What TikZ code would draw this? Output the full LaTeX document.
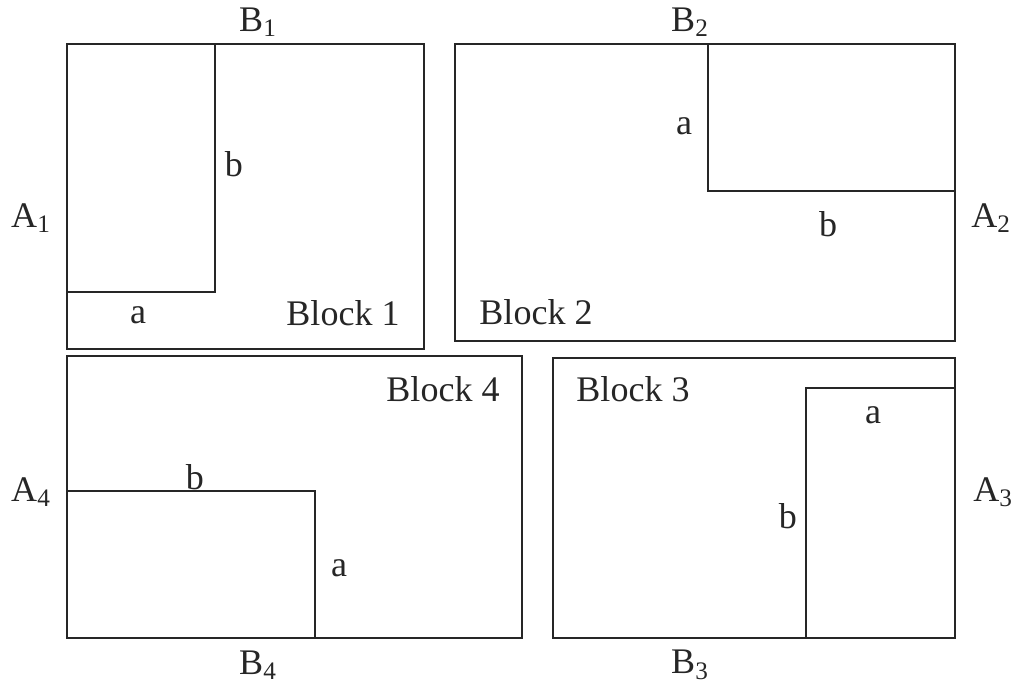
\documentclass[tikz,border=0pt]{standalone}
\usepackage{fontspec}
\setmainfont{Liberation Serif}
\usepackage{tikz}
\usetikzlibrary{positioning}
\tikzset{
  blockline/.style={draw, line width=0.9pt, black!85},
  lbl/.style={font=\fontsize{20.5}{24}\selectfont, inner sep=0pt, text=black!85},
  sidelbl/.style={font=\fontsize{20.5}{24}\selectfont, inner sep=0pt, text=black!85}
}

\begin{document}
\begin{tikzpicture}[x=0.2mm, y=-0.2mm]
  \useasboundingbox (0,0) rectangle (1014,691);
  % blocks
  \draw[blockline] (67,44) rectangle (424,349);
  \draw[blockline] (455,44) rectangle (955,341);
  \draw[blockline] (553,358) rectangle (955,638);
  \draw[blockline] (67,356) rectangle (522,638);
  % inner pieces
  \draw[blockline] (67,292) -| (215,44);
  \draw[blockline] (708,44) |- (955,191);
  \draw[blockline] (806,638) |- (955,388);
  \draw[blockline] (67,491) -| (315,638);
  % side labels
  \node[sidelbl] (b1) at (258,22) {B\textsubscript{1}};
  \node[sidelbl] (b2) at (690,22) {B\textsubscript{2}};
  \node[sidelbl] (b3) at (690,665) {B\textsubscript{3}};
  \node[sidelbl] (b4) at (258,665) {B\textsubscript{4}};
  \node[sidelbl] (a1) at (31,218) {A\textsubscript{1}};
  \node[sidelbl] (a2) at (991,218) {A\textsubscript{2}};
  \node[sidelbl] (a3) at (993,492) {A\textsubscript{3}};
  \node[sidelbl] (a4) at (31,492) {A\textsubscript{4}};
  % block names
  \node[lbl] (blk1) at (343,313) {Block 1};
  \node[lbl] (blk2) at (536,312) {Block 2};
  \node[lbl] (blk3) at (633,389) {Block 3};
  \node[lbl] (blk4) at (443,389) {Block 4};
  % sides of the pieces
  \node[lbl] (p1b) at (234,164) {b};
  \node[lbl] (p1a) at (138,315) {a};
  \node[lbl] (p2a) at (684,126) {a};
  \node[lbl] (p2b) at (828,224) {b};
  \node[lbl] (p3a) at (873,415) {a};
  \node[lbl] (p3b) at (788,516) {b};
  \node[lbl] (p4b) at (195,477) {b};
  \node[lbl] (p4a) at (339,568) {a};
\end{tikzpicture}
\end{document}
